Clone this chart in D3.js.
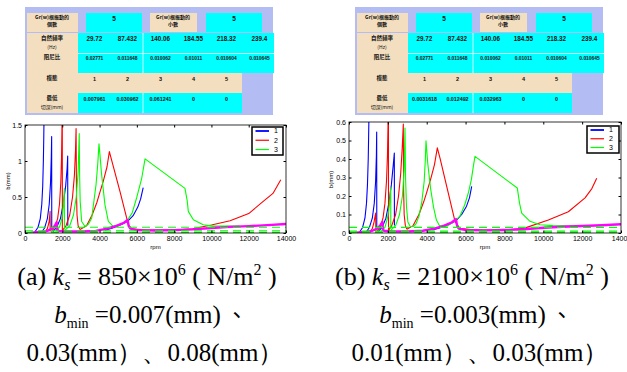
<!DOCTYPE html>
<html>
<head>
<meta charset="utf-8">
<script src="https://cdn.jsdelivr.net/npm/d3@7"></script>
<style>
  body { margin: 0; background: #fff; }
  svg { display: block; }
</style>
</head>
<body>
<svg id="fig" width="627" height="372"></svg>
<script>
// ---- table values ----
const rootCounts = ['5', '5'];
const freqs = ['29.72', '87.432', '140.06', '184.55', '218.32', '239.4'];
const damping = ['0.02771', '0.011648', '0.010062', '0.01011', '0.010604', '0.010645'];
const modes = ['1', '2', '3', '4', '5'];
const depthA = ['0.007961', '0.030962', '0.061241', '0', '0'];
const depthB = ['0.0031618', '0.012492', '0.032963', '0', '0'];

// ---- chart (a): ks = 850e6, each series is a list of [rpm, b(mm)] segments ----
const blueA = [
  [[520, 0.01], [700, 0.08], [820, 0.2], [900, 0.4], [950, 0.65], [985, 1.0], [1005, 1.3], [1020, 1.6]],
  [[880, 0.01], [1050, 0.07], [1200, 0.2], [1300, 0.4], [1370, 0.7], [1410, 1.05], [1430, 1.34], [1435, 0.05]],
  [[1500, 0.02], [1700, 0.08], [1900, 0.2], [2050, 0.4], [2180, 0.65], [2260, 0.9], [2290, 1.07], [2295, 0.1]],
  [[4300, 0.04], [4700, 0.07], [5100, 0.11], [5500, 0.16], [5800, 0.24], [6050, 0.36], [6200, 0.47], [6340, 0.63]]
];
const redA = [
  [[1070, 0.01], [1200, 0.06], [1290, 0.15], [1330, 0.25], [1345, 0.3], [1350, 0.02]],
  [[1420, 0.02], [1600, 0.08], [1750, 0.2], [1850, 0.4], [1920, 0.7], [1960, 1.05], [1990, 1.6], [2000, 1.6], [2005, 0.04]],
  [[2020, 0.04], [2200, 0.1], [2400, 0.25], [2550, 0.5], [2650, 0.8], [2710, 1.15], [2740, 1.45], [2760, 0.6], [2790, 0.25], [2850, 0.1], [2950, 0.05]],
  [[2950, 0.05], [3300, 0.1], [3600, 0.25], [3850, 0.42], [4000, 0.55], [4200, 0.72], [4400, 0.92], [4525, 1.13],
   [5100, 0.57], [5540, 0.12], [5700, 0.06], [6500, 0.04], [8000, 0.04], [9000, 0.06], [10000, 0.11], [11000, 0.17],
   [12000, 0.27], [12600, 0.4], [13300, 0.55], [13720, 0.74]]
];
const greenA = [
  [[1650, 0.02], [1850, 0.08], [1980, 0.2], [2060, 0.38], [2110, 0.62], [2115, 0.05]],
  [[2150, 0.04], [2400, 0.1], [2600, 0.25], [2750, 0.5], [2850, 0.85], [2910, 1.38], [2930, 0.8], [2960, 0.44],
   [3040, 0.16], [3220, 0.09], [3400, 0.12], [3580, 0.21], [3810, 0.67], [3900, 0.95], [3970, 1.24], [4110, 0.81],
   [4290, 0.39], [4470, 0.16], [4740, 0.09], [5100, 0.11], [5450, 0.16], [5750, 0.28], [5990, 0.49], [6260, 0.76],
   [6440, 1.03], [8580, 0.62], [8700, 0.45], [8760, 0.3], [9030, 0.185], [9560, 0.115], [10100, 0.095], [11500, 0.095]]
];
const magentaA = [
  [[300, 0], [600, 0.01], [900, 0.015], [1200, 0.03], [1450, 0.06], [1600, 0.1], [1700, 0.15], [1720, 0.05],
   [1800, 0.03], [2200, 0.02], [3000, 0.02], [3800, 0.03], [4400, 0.06], [4900, 0.1], [5300, 0.14], [5500, 0.18],
   [5560, 0.1], [5650, 0.06], [6000, 0.04], [7000, 0.035], [8000, 0.04], [9000, 0.05], [10000, 0.07],
   [11000, 0.085], [12000, 0.095], [13000, 0.11], [14000, 0.125]]
];
const dashA = [0.08, 0.03, 0.007];

// ---- chart (b): ks = 2100e6 ----
const blueB = [
  [[540, 0.004], [700, 0.03], [820, 0.08], [900, 0.16], [950, 0.26], [990, 0.4], [1010, 0.52], [1030, 0.65]],
  [[880, 0.004], [1050, 0.03], [1200, 0.08], [1300, 0.16], [1370, 0.28], [1410, 0.42], [1425, 0.546], [1430, 0.02]],
  [[1500, 0.008], [1700, 0.03], [1900, 0.08], [2050, 0.16], [2180, 0.26], [2280, 0.37], [2333, 0.432], [2338, 0.04]],
  [[4300, 0.016], [4700, 0.028], [5100, 0.045], [5500, 0.065], [5800, 0.1], [6050, 0.145], [6200, 0.19], [6315, 0.252]]
];
const redB = [
  [[1080, 0.004], [1200, 0.024], [1290, 0.06], [1340, 0.09], [1374, 0.108], [1380, 0.008]],
  [[1430, 0.008], [1600, 0.03], [1750, 0.08], [1850, 0.16], [1930, 0.28], [1980, 0.42], [2020, 0.65], [2030, 0.65], [2035, 0.016]],
  [[2050, 0.016], [2200, 0.04], [2400, 0.1], [2550, 0.2], [2660, 0.32], [2740, 0.46], [2796, 0.589], [2810, 0.24], [2840, 0.1], [2900, 0.04], [2980, 0.02]],
  [[2980, 0.02], [3300, 0.04], [3600, 0.1], [3850, 0.17], [4000, 0.22], [4200, 0.29], [4400, 0.37], [4546, 0.46],
   [4684, 0.405], [5456, 0.063], [5700, 0.025], [6500, 0.016], [8000, 0.016], [9000, 0.025], [10260, 0.07],
   [11290, 0.115], [12150, 0.19], [12500, 0.24], [12750, 0.296]]
];
const greenB = [
  [[1650, 0.008], [1850, 0.03], [1980, 0.08], [2080, 0.15], [2146, 0.247], [2152, 0.02]],
  [[2160, 0.016], [2400, 0.04], [2600, 0.1], [2750, 0.2], [2840, 0.34], [2882, 0.567], [2910, 0.3], [2960, 0.14],
   [3030, 0.06], [3150, 0.035], [3300, 0.035], [3450, 0.05], [3600, 0.09], [3750, 0.17], [3870, 0.28], [3930, 0.4],
   [3963, 0.499], [4050, 0.38], [4200, 0.24], [4350, 0.14], [4500, 0.07], [4650, 0.04], [4850, 0.032], [5100, 0.04],
   [5400, 0.06], [5700, 0.09], [5950, 0.15], [6150, 0.22], [6300, 0.29], [6400, 0.36], [6485, 0.414], [8663, 0.243],
   [8780, 0.16], [8889, 0.108], [9316, 0.063], [9831, 0.045], [10500, 0.04], [11500, 0.038]]
];
const magentaB = [
  [[300, 0], [600, 0.004], [900, 0.006], [1200, 0.012], [1450, 0.024], [1600, 0.04], [1720, 0.06], [1740, 0.02],
   [1800, 0.012], [2200, 0.008], [3000, 0.008], [3800, 0.012], [4400, 0.024], [4900, 0.04], [5300, 0.058],
   [5507, 0.075], [5560, 0.04], [5650, 0.024], [6000, 0.016], [7000, 0.014], [8000, 0.016], [9000, 0.02],
   [10000, 0.028], [11000, 0.034], [12000, 0.038], [13000, 0.042], [14000, 0.047]]
];
const dashB = [0.03, 0.01, 0.003];

const legendNames = ['1', '2', '3'];
const yTicksA = [0, 0.5, 1, 1.5];
const yTicksB = [0, 0.1, 0.2, 0.3, 0.4, 0.5, 0.6];
const xTicks = [0, 2000, 4000, 6000, 8000, 10000, 12000, 14000];

const LAV = '#b3bcf3';
const BEIGE = '#f3dfbf';
const CYAN = '#00ffff';
const COLORS = { blue: '#0000ff', red: '#ff0000', green: '#00ff00', magenta: '#ff00ff' };
const CJK = '"Noto Sans CJK TC", "Noto Sans CJK SC", sans-serif';
const SANS = '"Liberation Sans", Arial, sans-serif';
const SERIF = '"Liberation Serif", "Times New Roman", serif';

const svg = d3.select('#fig');
svg.append('rect').attr('width', 627).attr('height', 372).attr('fill', '#fff');

function drawTable(dx, depth) {
  const g = svg.append('g').attr('transform', `translate(${dx},0)`);
  const rect = (x, y, w, h, fill) => g.append('rect').attr('x', x).attr('y', y).attr('width', w).attr('height', h).attr('fill', fill);
  const txt = (x, y, s, size, weight, font) => g.append('text').attr('x', x).attr('y', y)
    .attr('text-anchor', 'middle').attr('font-size', size).attr('font-weight', weight || 'normal')
    .attr('font-family', font || SANS).attr('fill', '#111').text(s);

  rect(25, 7, 248, 108, LAV);
  // header row
  rect(27, 13, 51, 19, BEIGE);
  rect(86, 13, 56, 19, CYAN);
  rect(150, 13, 47, 19, BEIGE);
  rect(206, 13, 56, 19, CYAN);
  // label column + rows
  rect(27, 33, 51, 80, BEIGE);
  rect(78, 33, 196, 40, CYAN);
  rect(78, 73, 164, 20, BEIGE);
  rect(78, 93, 164, 20, CYAN);
  // white separators
  g.append('line').attr('x1', 78).attr('x2', 274).attr('y1', 53.5).attr('y2', 53.5).attr('stroke', '#fff').attr('stroke-width', 0.8);
  g.append('line').attr('x1', 143).attr('x2', 143).attr('y1', 33).attr('y2', 73).attr('stroke', '#fff').attr('stroke-width', 0.8);
  g.append('line').attr('x1', 143).attr('x2', 143).attr('y1', 93).attr('y2', 113).attr('stroke', '#fff').attr('stroke-width', 0.8);

  // labels
  txt(52, 19, 'Gr(w)根振動的', 5, 'bold', CJK);
  txt(52, 26, '個數', 5, 'bold', CJK);
  txt(173, 19, 'Gr(w)根振動的', 5, 'bold', CJK);
  txt(173, 26, '小數', 5, 'bold', CJK);
  txt(52, 40, '自然頻率', 5.5, 'bold', CJK);
  txt(52, 49, '(Hz)', 5, 'normal', CJK);
  txt(52, 59, '阻尼比', 5.5, 'bold', CJK);
  txt(52, 80, '模態', 5.5, 'bold', CJK);
  txt(52, 100, '最低', 5.5, 'bold', CJK);
  txt(52, 109, '切深(mm)', 5, 'normal', CJK);

  txt(114, 21, rootCounts[0], 6.5, 'bold');
  txt(234, 21, rootCounts[1], 6.5, 'bold');

  const colX = d3.scaleBand().domain(d3.range(6)).range([78, 276]);
  const cx = i => colX(i) + colX.bandwidth() / 2;
  freqs.forEach((v, i) => txt(cx(i), 41, v, 6.3, 'bold'));
  damping.forEach((v, i) => txt(cx(i), 60, v, 4.9, 'bold'));
  modes.forEach((v, i) => txt(cx(i), 80.5, v, 5.5, 'bold'));
  depth.forEach((v, i) => txt(cx(i), 101, v, 5.3, 'bold'));
}

function drawChart(box, yMax, yTicks, series, dashes, legendBox, yLabelX, id) {
  const x = d3.scaleLinear().domain([0, 14000]).range([box.left, box.right]);
  const y = d3.scaleLinear().domain([0, yMax]).range([box.bottom, box.top]);
  const g = svg.append('g');

  g.append('rect').attr('x', box.left).attr('y', box.top)
    .attr('width', box.right - box.left).attr('height', box.bottom - box.top).attr('fill', '#fff');

  g.append('clipPath').attr('id', id).append('rect')
    .attr('x', box.left).attr('y', box.top)
    .attr('width', box.right - box.left).attr('height', box.bottom - box.top);

  const plot = g.append('g').attr('clip-path', `url(#${id})`);
  const line = d3.line().x(d => x(d[0])).y(d => y(d[1]));

  series.forEach(s => {
    plot.selectAll(null).data(s.segs).enter().append('path')
      .attr('d', line).attr('fill', 'none')
      .attr('stroke', s.color).attr('stroke-width', s.width)
      .attr('stroke-linejoin', 'round');
  });

  plot.selectAll('.dash').data(dashes).enter().append('line')
    .attr('x1', box.left).attr('x2', box.right)
    .attr('y1', d => y(d)).attr('y2', d => y(d))
    .attr('stroke', COLORS.green).attr('stroke-width', 1.2)
    .attr('stroke-dasharray', '8,5');

  // axes, MATLAB-style inward ticks
  const fmt = d => String(d);
  const styleAxis = a => {
    a.select('.domain').remove();
    a.selectAll('line').attr('stroke', '#000');
    a.selectAll('text').attr('font-family', SANS).attr('font-size', 7).attr('fill', '#000');
  };
  g.append('g').attr('transform', `translate(0,${box.bottom})`)
    .call(d3.axisBottom(x).tickValues(xTicks).tickSize(-2.5).tickPadding(3).tickFormat(fmt)).call(styleAxis);
  g.append('g').attr('transform', `translate(0,${box.top})`)
    .call(d3.axisTop(x).tickValues(xTicks).tickSize(-2.5).tickFormat('')).call(styleAxis);
  g.append('g').attr('transform', `translate(${box.left},0)`)
    .call(d3.axisLeft(y).tickValues(yTicks).tickSize(-2.5).tickPadding(3).tickFormat(fmt)).call(styleAxis);
  g.append('g').attr('transform', `translate(${box.right},0)`)
    .call(d3.axisRight(y).tickValues(yTicks).tickSize(-2.5).tickFormat('')).call(styleAxis);

  g.append('rect').attr('x', box.left).attr('y', box.top)
    .attr('width', box.right - box.left).attr('height', box.bottom - box.top)
    .attr('fill', 'none').attr('stroke', '#000').attr('stroke-width', 0.8);

  g.append('text').attr('x', (box.left + box.right) / 2).attr('y', box.bottom + 16)
    .attr('text-anchor', 'middle').attr('font-family', SANS).attr('font-size', 6).text('rpm');
  g.append('text').attr('transform', `translate(${yLabelX},${(box.top + box.bottom) / 2 + 2}) rotate(-90)`)
    .attr('text-anchor', 'middle').attr('font-family', SANS).attr('font-size', 6).text('b(mm)');

  // legend
  const lg = g.append('g').attr('transform', `translate(${legendBox.x},${legendBox.y})`);
  lg.append('rect').attr('width', legendBox.w).attr('height', legendBox.h)
    .attr('fill', '#fff').attr('stroke', '#000').attr('stroke-width', 1.5);
  const legendColors = [COLORS.blue, COLORS.red, COLORS.green];
  const rowY = d3.scalePoint().domain(legendNames).range([4, legendBox.h - 5.5]);
  legendNames.forEach((n, i) => {
    lg.append('line').attr('x1', 3.5).attr('x2', 17).attr('y1', rowY(n)).attr('y2', rowY(n))
      .attr('stroke', legendColors[i]).attr('stroke-width', i === 0 ? 1.8 : 1.2);
    lg.append('text').attr('x', 22).attr('y', rowY(n) + 2.4)
      .attr('font-family', SANS).attr('font-size', 7).text(n);
  });
}

function seriesList(blue, red, green, magenta) {
  return [
    { segs: blue, color: COLORS.blue, width: 1.1 },
    { segs: red, color: COLORS.red, width: 1.1 },
    { segs: green, color: COLORS.green, width: 1.1 },
    { segs: magenta, color: COLORS.magenta, width: 2.4 }
  ];
}

function drawCaption(cx, label, ks, bmin, rest) {
  const t = svg.append('g').attr('font-family', SERIF).attr('fill', '#000');
  const l1 = t.append('text').attr('x', cx).attr('y', 285).attr('text-anchor', 'middle').attr('font-size', 26);
  l1.append('tspan').text(label + ' ');
  l1.append('tspan').attr('font-style', 'italic').text('k');
  l1.append('tspan').attr('font-style', 'italic').attr('font-size', 16).attr('dy', 5).text('s');
  l1.append('tspan').attr('dy', -5).text(' = ' + ks + '×10');
  l1.append('tspan').attr('font-size', 16).attr('dy', -10).text('6');
  l1.append('tspan').attr('dy', 10).text(' ( N/m');
  l1.append('tspan').attr('font-size', 16).attr('dy', -10).text('2');
  l1.append('tspan').attr('dy', 10).text(' )');

  const l2 = t.append('text').attr('x', cx + 4).attr('y', 323).attr('text-anchor', 'middle').attr('font-size', 25);
  l2.append('tspan').attr('font-style', 'italic').text('b');
  l2.append('tspan').attr('font-size', 14).attr('dy', 5).text('min');
  l2.append('tspan').attr('dy', -5).text(' =' + bmin + '(mm)');
  l2.append('tspan').attr('font-family', CJK).attr('font-size', 22).text(' 、');

  t.append('text').attr('x', cx + 8).attr('y', 361).attr('text-anchor', 'middle').attr('font-size', 25)
    .text(rest);
}

drawTable(0, depthA);
drawTable(330, depthB);

drawChart({ left: 25, right: 286, top: 125, bottom: 233 }, 1.5, yTicksA,
  seriesList(blueA, redA, greenA, magentaA), dashA,
  { x: 252, y: 127, w: 31, h: 28 }, 10, 'clipA');
drawChart({ left: 349, right: 621, top: 122, bottom: 233 }, 0.6, yTicksB,
  seriesList(blueB, redB, greenB, magentaB), dashB,
  { x: 587, y: 126, w: 32, h: 27 }, 333, 'clipB');

drawCaption(147, '(a)', '850', '0.007', '0.03(mm）、0.08(mm）');
drawCaption(472, '(b)', '2100', '0.003', '0.01(mm）、0.03(mm）');
</script>
</body>
</html>
